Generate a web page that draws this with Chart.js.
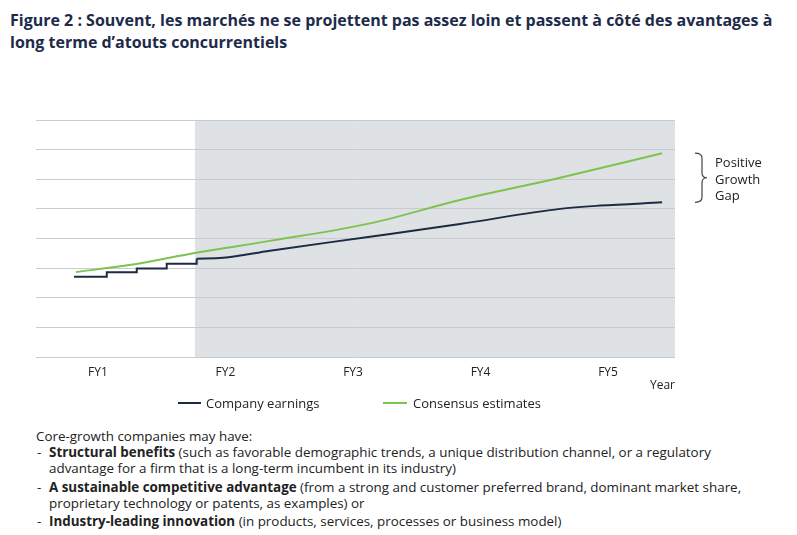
<!DOCTYPE html>
<html>
<head>
<meta charset="utf-8">
<script src="https://cdn.jsdelivr.net/npm/chart.js@4.4.1/dist/chart.umd.min.js"></script>
<style>
  html, body { margin: 0; padding: 0; background: #fff; }
  body { width: 797px; height: 535px; position: relative; overflow: hidden; font-family: "Open Sans", sans-serif; }
  #title { position: absolute; left: 10px; top: 9px; width: 785px; font-weight: bold; font-size: 16px; line-height: 22px; color: #1d2b4a; }
  #wrap { position: absolute; left: 0; top: 0; width: 797px; height: 400px; }
  #note { position: absolute; left: 715px; top: 154px; font-size: 13px; line-height: 16.5px; color: #222; }
  .lg { position: absolute; top: 394px; font-size: 13px; line-height: 18px; color: #222; white-space: nowrap; }
  .sw { position: absolute; height: 2px; top: 402px; }
  #body { position: absolute; left: 36px; top: 428px; width: 760px; font-size: 13.4px; line-height: 16px; color: #222; white-space: nowrap; }
  #body ul { list-style: none; margin: 0; padding: 0; }
  #body li { position: relative; padding-left: 13px; margin-top: 2.5px; }
  #body li:first-child { margin-top: 0; }
  #body li:before { content: "-"; position: absolute; left: 1px; top: 0; }
</style>
</head>
<body>
<div id="title">Figure 2 : Souvent, les marchés ne se projettent pas assez loin et passent à côté des avantages à long terme d’atouts concurrentiels</div>
<div id="wrap"><canvas id="c"></canvas></div>
<div id="note">Positive<br>Growth<br>Gap</div>
<div class="sw" style="left:178px;width:23px;background:#1c2a44"></div>
<div class="lg" style="left:206px">Company earnings</div>
<div class="sw" style="left:383px;width:24px;background:#7cc350"></div>
<div class="lg" style="left:413px">Consensus estimates</div>
<div id="body">Core-growth companies may have:
<ul>
<li><b>Structural benefits</b> (such as favorable demographic trends, a unique distribution channel, or a regulatory<br>advantage for a firm that is a long-term incumbent in its industry)</li>
<li><b>A sustainable competitive advantage</b> (from a strong and customer preferred brand, dominant market share,<br>proprietary technology or patents, as examples) or</li>
<li><b>Industry-leading innovation</b> (in products, services, processes or business model)</li>
</ul>
</div>
<script>
// ---- data ----
const xTickValues = [1, 2, 3, 4, 5];
const xTickLabels = ['FY1', 'FY2', 'FY3', 'FY4', 'FY5'];
const earningsQuarterX = [0.812, 1.069, 1.304, 1.539, 1.774];
const earningsQuarterY = [2.71, 2.86, 2.99, 3.15, 3.32];
const earningsTrendX = [1.774, 1.981, 2.349, 3.134, 3.839, 4.624, 4.938, 5.424];
const earningsTrendY = [3.32, 3.35, 3.59, 4.06, 4.49, 5.00, 5.11, 5.22];
const consensusX = [0.828, 1.273, 1.769, 2.349, 3.134, 3.839, 4.624, 5.424];
const consensusY = [2.87, 3.12, 3.52, 3.92, 4.51, 5.30, 6.05, 6.88];
const forecastStart = 1.761;

const NAVY = '#1c2a44';
const GREEN = '#7cc350';

const pts = (xs, ys) => xs.map((x, i) => ({ x: x, y: ys[i] }));

const shadePlugin = {
  id: 'shade',
  beforeDraw(chart) {
    const { ctx, chartArea, scales } = chart;
    const x0 = scales.x.getPixelForValue(forecastStart);
    ctx.save();
    ctx.fillStyle = '#dee2e4';
    ctx.fillRect(x0, chartArea.top, chartArea.right - x0, chartArea.bottom - chartArea.top);
    ctx.restore();
  }
};

const bracePlugin = {
  id: 'brace',
  afterDraw(chart) {
    const { ctx, chartArea, scales } = chart;
    const top = scales.y.getPixelForValue(consensusY[consensusY.length - 1]);
    const bot = scales.y.getPixelForValue(earningsTrendY[earningsTrendY.length - 1]);
    const mid = (top + bot) / 2;
    const x0 = chartArea.right + 20, x1 = x0 + 7, x2 = x0 + 12, r = 5;
    ctx.save();
    ctx.strokeStyle = '#444';
    ctx.lineWidth = 1.2;
    ctx.beginPath();
    ctx.moveTo(x0, top);
    ctx.quadraticCurveTo(x1, top, x1, top + r);
    ctx.lineTo(x1, mid - r);
    ctx.quadraticCurveTo(x1, mid, x2, mid);
    ctx.quadraticCurveTo(x1, mid, x1, mid + r);
    ctx.lineTo(x1, bot - r);
    ctx.quadraticCurveTo(x1, bot, x0, bot);
    ctx.stroke();
    ctx.restore();
  }
};

new Chart(document.getElementById('c'), {
  type: 'line',
  data: {
    datasets: [
      { label: 'Company earnings', data: pts(earningsQuarterX, earningsQuarterY), borderColor: NAVY, backgroundColor: NAVY, borderWidth: 2, stepped: 'before', pointRadius: 0 },
      { label: 'Company earnings (trend)', data: pts(earningsTrendX, earningsTrendY), borderColor: NAVY, backgroundColor: NAVY, borderWidth: 2, cubicInterpolationMode: 'monotone', pointRadius: 0 },
      { label: 'Consensus estimates', data: pts(consensusX, consensusY), borderColor: GREEN, backgroundColor: GREEN, borderWidth: 2, cubicInterpolationMode: 'monotone', pointRadius: 0 }
    ]
  },
  options: {
    responsive: true,
    maintainAspectRatio: false,
    animation: false,
    layout: { padding: { top: 120, left: 36, right: 122, bottom: 0 } },
    plugins: { legend: { display: false }, tooltip: { enabled: false } },
    scales: {
      x: {
        type: 'linear', min: 0.514, max: 5.525,
        afterBuildTicks: (s) => { s.ticks = xTickValues.map(v => ({ value: v })); },
        afterFit: (s) => { s.height = 43; },
        ticks: { padding: 8, color: '#222', font: { family: 'Open Sans', size: 12 }, maxRotation: 0,
          callback: (v) => xTickLabels[xTickValues.indexOf(v)] },
        grid: { display: false, drawTicks: false },
        border: { display: false },
        title: { display: true, text: 'Year', align: 'end', color: '#222', font: { family: 'Open Sans', size: 12 }, padding: { top: 0, bottom: 7 } }
      },
      y: {
        min: 0, max: 8,
        ticks: { stepSize: 1, display: false },
        grid: { color: '#c9cccf', lineWidth: 1, drawTicks: false },
        border: { display: false }
      }
    }
  },
  plugins: [shadePlugin, bracePlugin]
});
</script>
</body>
</html>
